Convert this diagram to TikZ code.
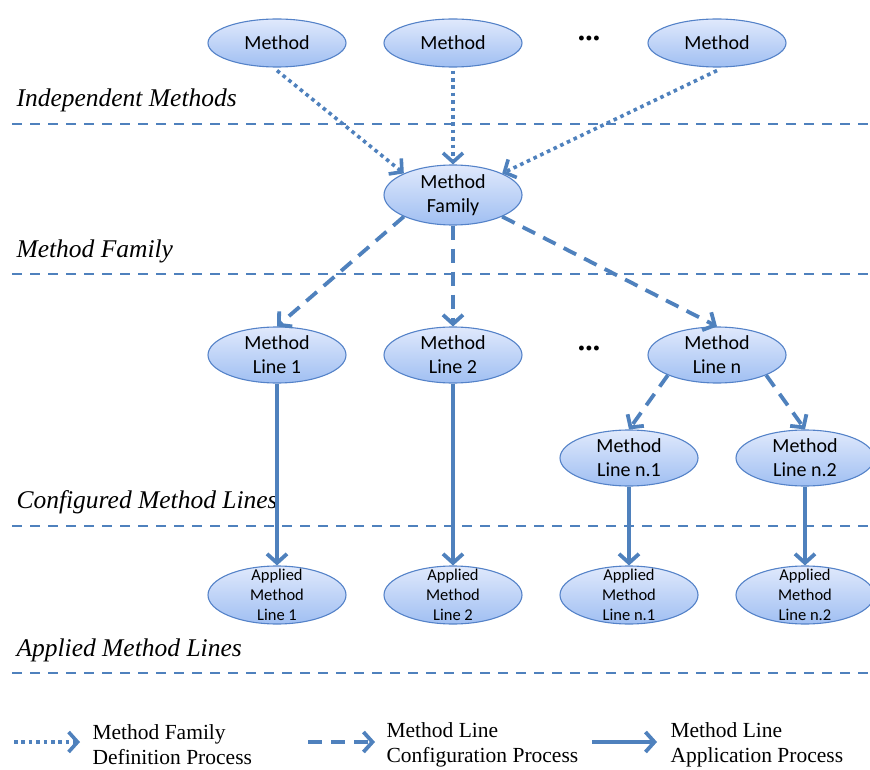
\documentclass[tikz,border=0pt]{standalone}
\usepackage{fontspec}
\setmainfont{Carlito}
\newfontfamily\serifx{Liberation Serif}
\usetikzlibrary{shapes.geometric,arrows.meta}
\definecolor{lineblue}{RGB}{79,129,189}
\definecolor{edgeblue}{RGB}{84,130,200}
\definecolor{filltop}{RGB}{224,233,252}
\definecolor{fillbot}{RGB}{160,191,242}
\tikzset{
  ebox/.style={ellipse, draw=edgeblue, line width=1.1pt, top color=filltop, bottom color=fillbot,
    minimum width=138pt, minimum height=#1, inner sep=0pt},
  ebox/.default=48pt,
  etext/.style={font=\fontsize{20}{24}\selectfont, align=center},
  atext/.style={font=\fontsize{16.5}{20}\selectfont, align=center},
  sep/.style={draw=lineblue, line width=2.2pt, dash pattern=on 10pt off 8pt},
  lvl/.style={anchor=west, font=\serifx\itshape\fontsize{25.5}{28}\selectfont},
  tip/.style={-{Straight Barb[length=9pt,width=20pt]}},
  dotarrow/.style={tip, draw=lineblue, line width=3.6pt, dash pattern=on 3.6pt off 3.8pt},
  dasharrow/.style={tip, draw=lineblue, line width=3.8pt, dash pattern=on 14pt off 9pt},
  solarrow/.style={tip, draw=lineblue, line width=3.8pt},
  legtext/.style={anchor=west, align=left, font=\serifx\fontsize{21.5}{25}\selectfont},
  dots/.style={font=\serifx\bfseries\itshape\fontsize{30}{30}\selectfont}
}
\begin{document}
\begin{tikzpicture}[x=1pt,y=-1pt]
\useasboundingbox (0,0) rectangle (870,770);
% separators
\coordinate (s1a) at (12,124); \coordinate (s1b) at (870,124);
\coordinate (s2a) at (12,274); \coordinate (s2b) at (870,274);
\coordinate (s3a) at (12,526); \coordinate (s3b) at (870,526);
\coordinate (s4a) at (12,673); \coordinate (s4b) at (870,673);
\draw[sep] (s1a) -- (s1b);
\draw[sep] (s2a) -- (s2b);
\draw[sep] (s3a) -- (s3b);
\draw[sep] (s4a) -- (s4b);
% level labels
\node[lvl] (lab1) at (13,100) {Independent Methods};
\node[lvl] (lab2) at (13,251) {Method Family};
\node[lvl] (lab3) at (13,502) {Configured Method Lines};
\node[lvl] (lab4) at (13,650) {Applied Method Lines};
% top methods
\node[ebox, label={[etext]center:Method}] (m1) at (277,43) {};
\node[ebox, label={[etext]center:Method}] (m2) at (453,43) {};
\node[ebox, label={[etext]center:Method}] (m3) at (717,43) {};
\node[dots] (dt1) at (590,38) {...};
% family
\node[ebox=60pt, label={[etext]center:Method\\Family}] (fam) at (453,195) {};
% method lines
\node[ebox=56pt, label={[etext]center:Method\\Line 1}] (l1) at (277,355) {};
\node[ebox=56pt, label={[etext]center:Method\\Line 2}] (l2) at (453,355) {};
\node[ebox=56pt, label={[etext]center:Method\\Line n}] (ln) at (717,355) {};
\node[dots] (dt2) at (590,348) {...};
\node[ebox=56pt, label={[etext]center:Method\\Line n.1}] (n1) at (629,458) {};
\node[ebox=56pt, label={[etext]center:Method\\Line n.2}] (n2) at (805,458) {};
% applied
\node[ebox=58pt, label={[atext]center:Applied\\Method\\Line 1}] (a1) at (277,595) {};
\node[ebox=58pt, label={[atext]center:Applied\\Method\\Line 2}] (a2) at (453,595) {};
\node[ebox=58pt, label={[atext]center:Applied\\Method\\Line n.1}] (a3) at (629,595) {};
\node[ebox=58pt, label={[atext]center:Applied\\Method\\Line n.2}] (a4) at (805,595) {};
% dotted arrows
\draw[dotarrow] ([yshift=-3pt]m1.south) -- (fam.north west);
\draw[dotarrow] ([yshift=-3pt]m2.south) -- (fam.north);
\draw[dotarrow] ([yshift=-3pt]m3.south) -- (fam.north east);
% dashed arrows
\draw[dasharrow] (fam.south west) -- (l1.north);
\draw[dasharrow] (fam.south) -- (l2.north);
\draw[dasharrow] (fam.south east) -- (ln.north);
\draw[dasharrow] (ln.south west) -- (n1.north);
\draw[dasharrow] (ln.south east) -- (n2.north);
% solid arrows
\draw[solarrow] (l1.south) -- (a1.north);
\draw[solarrow] (l2.south) -- (a2.north);
\draw[solarrow] (n1.south) -- (a3.north);
\draw[solarrow] (n2.south) -- (a4.north);
% legend
\coordinate (g1a) at (14,742); \coordinate (g1b) at (80,742);
\coordinate (g2a) at (308,742); \coordinate (g2b) at (375,742);
\coordinate (g3a) at (592,742); \coordinate (g3b) at (657,742);
\draw[dotarrow] (g1a) -- (g1b);
\draw[dasharrow] (g2a) -- (g2b);
\draw[solarrow] (g3a) -- (g3b);
\node[legtext] (t1) at (89,745) {Method Family\\Definition Process};
\node[legtext] (t2) at (383,745) {Method Line\\Configuration Process};
\node[legtext] (t3) at (667,745) {Method Line\\Application Process};
\end{tikzpicture}
\end{document}
